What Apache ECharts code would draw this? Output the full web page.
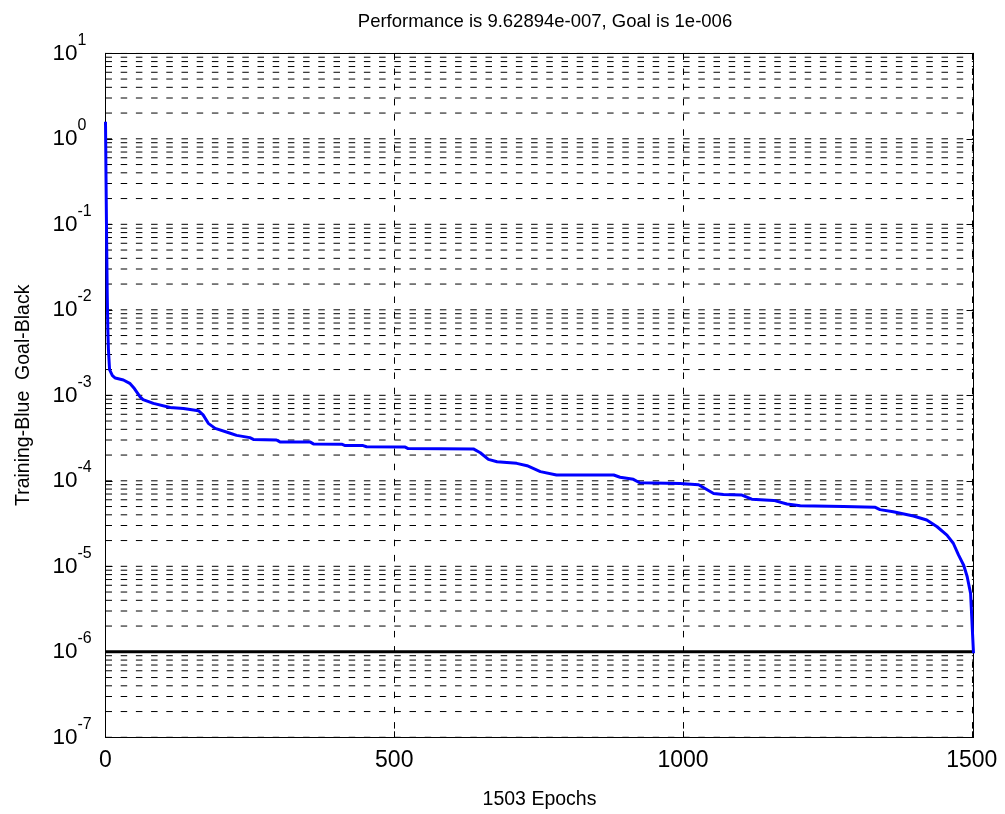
<!DOCTYPE html>
<html><head><meta charset="utf-8">
<script src="https://cdn.jsdelivr.net/npm/echarts@6.0.0/dist/echarts.min.js"></script>
<style>html,body{margin:0;padding:0;background:#fff}#c{width:1005px;height:814px}</style>
</head><body><div id="c"></div>
<script>
// ---- data ----
const epochs = [0,1,2,3,4,5,7,12,17,31,42,50,60,65,83,112,135,161,169,178,190,216,227,250,256,296,302,354,360,409,415,446,452,519,524,637,649,663,678,712,730,753,781,880,891,914,925,995,1027,1053,1070,1102,1119,1157,1180,1203,1278,1333,1341,1364,1399,1422,1440,1457,1468,1477,1486,1492,1498,1503];
const performance = [1.58,0.3,0.06,0.015,0.006,0.0035,2.0e-3,1.7e-3,1.59e-3,1.51e-3,1.38e-3,1.2e-3,9.6e-4,8.9e-4,8.05e-4,7.2e-4,7.0e-4,6.6e-4,5.9e-4,4.7e-4,4.1e-4,3.6e-4,3.4e-4,3.2e-4,3.05e-4,3.0e-4,2.85e-4,2.85e-4,2.7e-4,2.68e-4,2.58e-4,2.58e-4,2.5e-4,2.48e-4,2.38e-4,2.36e-4,2.13e-4,1.78e-4,1.67e-4,1.6e-4,1.5e-4,1.28e-4,1.17e-4,1.17e-4,1.10e-4,1.04e-4,9.5e-5,9.3e-5,9.0e-5,7.1e-5,6.9e-5,6.8e-5,6.1e-5,5.9e-5,5.36e-5,5.1e-5,5.0e-5,4.9e-5,4.6e-5,4.35e-5,3.88e-5,3.48e-5,2.9e-5,2.32e-5,1.86e-5,1.36e-5,1.03e-5,7.6e-6,4.8e-6,9.62894e-7];
const goalValue = 1e-6;
const totalEpochs = 1503;
const xTicks = [0, 500, 1000, 1500];
const yDecades = [-7, -6, -5, -4, -3, -2, -1, 0, 1];
const titleText = 'Performance is 9.62894e-007, Goal is 1e-006';
const xName = '1503 Epochs';
const yName = 'Training-Blue  Goal-Black';

// ---- build ----
const FONT = 'Liberation Sans, Arial, sans-serif';
const gridValues = [];
yDecades.forEach(d => {
  for (let k = 1; k <= 9; k++) {
    if (d === yDecades[yDecades.length - 1] && k > 1) break;
    gridValues.push(k * Math.pow(10, d));
  }
});
const trainData = epochs.map((e, i) => [e, performance[i]]);
const goalData = [[0, goalValue], [totalEpochs, goalValue]];
const yMin = Math.pow(10, yDecades[0]);
const yMax = Math.pow(10, yDecades[yDecades.length - 1]);
const dash = [6.5, 8.7];

const gridSeries = gridValues.map(v => ({
  type: 'line', xAxisIndex: 0, yAxisIndex: 0, z: 1, silent: true,
  data: [[0, v], [totalEpochs, v]], symbol: 'none',
  lineStyle: {color: '#000', width: 1, type: dash},
  emphasis: {disabled: true}, tooltip: {show: false}
}));

const chart = echarts.init(document.getElementById('c'), null, {renderer: 'canvas'});
const baseX = {
  type: 'value', min: 0, max: totalEpochs, interval: 500,
  axisLine: {show: true, onZero: false, lineStyle: {color: '#000', width: 1}},
  axisTick: {show: true, inside: true, length: 6, lineStyle: {color: '#000'}},
};
const baseY = {
  type: 'log', logBase: 10, min: yMin, max: yMax, splitNumber: 8,
  axisLine: {show: true, onZero: false, lineStyle: {color: '#000', width: 1}},
  axisTick: {show: true, inside: true, length: 7, lineStyle: {color: '#000'}},
  splitLine: {show: false}
};
chart.setOption({
  animation: false,
  backgroundColor: '#fff',
  textStyle: {fontFamily: FONT},
  title: {
    text: titleText, left: 540, top: 7, textAlign: 'center',
    textStyle: {fontSize: 18.5, fontWeight: 'normal', color: '#000', fontFamily: FONT}
  },
  grid: {left: 105.5, right: 31.5, top: 53.3, bottom: 76.7, containLabel: false, outerBoundsMode: 'none'},
  xAxis: [
    Object.assign({}, baseX, {
      position: 'bottom',
      name: xName, nameLocation: 'middle', nameGap: 52,
      nameTextStyle: {fontSize: 19.5, color: '#000', fontFamily: FONT},
      axisLabel: {fontSize: 23, color: '#000', margin: 12, fontFamily: FONT, showMaxLabel: false,
        formatter: v => xTicks.includes(v) ? String(v) : ''},
      splitLine: {show: true, lineStyle: {color: '#000', width: 1, type: dash}}
    }),
    Object.assign({}, baseX, {position: 'top', axisLabel: {show: false}, splitLine: {show: false}})
  ],
  yAxis: [
    Object.assign({}, baseY, {
      position: 'left',
      name: yName, nameLocation: 'middle', nameGap: 72, nameRotate: 90,
      nameTextStyle: {fontSize: 19.5, color: '#000', fontFamily: FONT},
      axisLabel: {
        align: 'left', margin: 53, color: '#000',
        formatter: v => '{b|10}{s|' + Math.round(Math.log10(v)) + '}',
        rich: {
          b: {fontSize: 22.5, color: '#000', fontFamily: FONT},
          s: {fontSize: 16, color: '#000', fontFamily: FONT, padding: [0, 0, 26, 0]}
        }
      }
    }),
    Object.assign({}, baseY, {position: 'right', axisLabel: {show: false}})
  ],
  series: gridSeries.concat([
    {
      type: 'line', name: 'Goal', xAxisIndex: 0, yAxisIndex: 0, z: 4, data: goalData,
      symbol: 'none', lineStyle: {color: '#000', width: 3}
    },
    {
      type: 'line', name: 'Training', xAxisIndex: 0, yAxisIndex: 0, z: 5, data: trainData,
      symbol: 'none', lineStyle: {color: '#0000ff', width: 3}
    }
  ])
});
</script>
</body></html>
